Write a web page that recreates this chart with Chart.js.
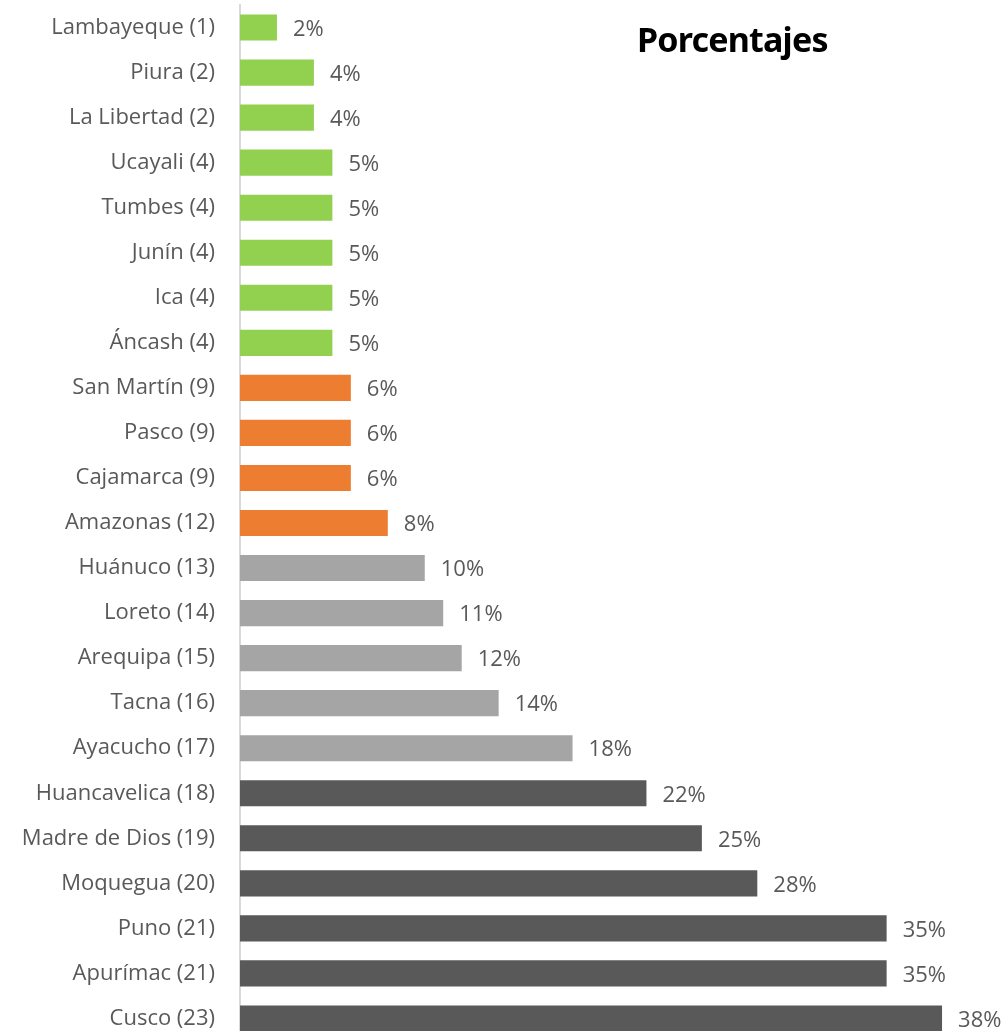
<!DOCTYPE html>
<html>
<head>
<meta charset="utf-8">
<script src="https://cdn.jsdelivr.net/npm/chart.js@4.4.1/dist/chart.umd.min.js"></script>
<style>
  html, body { margin: 0; padding: 0; background: #fff; overflow: hidden; width: 1007px; height: 1031px; }
  #wrap { position: relative; width: 1007px; height: 1031px; overflow: hidden; }
  #c { position: absolute; left: 0; top: 0; }
  #title { position: absolute; left: 637px; top: 19px; font-family: "Noto Sans", sans-serif; font-weight: 700; font-size: 34px; color: #000; letter-spacing: -0.8px; line-height: 40px; white-space: nowrap; }
</style>
</head>
<body>
<div id="wrap">
  <canvas id="c" width="1040" height="1046"></canvas>
  <div id="title">Porcentajes</div>
</div>
<script>
const categories = ["Lambayeque (1)", "Piura (2)", "La Libertad (2)", "Ucayali (4)", "Tumbes (4)", "Junín (4)", "Ica (4)", "Áncash (4)", "San Martín (9)", "Pasco (9)", "Cajamarca (9)", "Amazonas (12)", "Huánuco (13)", "Loreto (14)", "Arequipa (15)", "Tacna (16)", "Ayacucho (17)", "Huancavelica (18)", "Madre de Dios (19)", "Moquegua (20)", "Puno (21)", "Apurímac (21)", "Cusco (23)"];
const percentages = [2, 4, 4, 5, 5, 5, 5, 5, 6, 6, 6, 8, 10, 11, 12, 14, 18, 22, 25, 28, 35, 35, 38];
const tiers = [1, 1, 1, 1, 1, 1, 1, 1, 2, 2, 2, 2, 3, 3, 3, 3, 3, 4, 4, 4, 4, 4, 4];

const tierColors = { 1: "#92D050", 2: "#ED7D31", 3: "#A5A5A5", 4: "#595959" };

const valueLabels = {
  id: "valueLabels",
  afterDatasetsDraw(chart) {
    const ctx = chart.ctx;
    const meta = chart.getDatasetMeta(0);
    ctx.save();
    ctx.font = '22px "Open Sans", sans-serif';
    ctx.fillStyle = "#595959";
    ctx.textAlign = "left";
    ctx.textBaseline = "middle";
    meta.data.forEach((bar, i) => {
      ctx.fillText(percentages[i] + "%", bar.x + 16, bar.y + 2);
    });
    ctx.restore();
  }
};

new Chart(document.getElementById("c"), {
  type: "bar",
  data: {
    labels: categories,
    datasets: [{
      data: percentages,
      backgroundColor: tiers.map(t => tierColors[t]),
      borderWidth: 0,
      barPercentage: 0.58,
      categoryPercentage: 1.0
    }]
  },
  options: {
    indexAxis: "y",
    responsive: false,
    animation: false,
    devicePixelRatio: 1,
    layout: { padding: { left: 0, right: 61, top: 5, bottom: 5 } },
    plugins: { legend: { display: false }, tooltip: { enabled: false }, title: { display: false } },
    scales: {
      x: {
        display: false,
        min: 0,
        max: 40
      },
      y: {
        afterFit(scale) { scale.width = 240; scale.paddingTop = 0; scale.paddingBottom = 0; },
        grid: { display: false, drawTicks: false },
        border: { display: true, color: "#D9D9D9", width: 2 },
        ticks: {
          padding: 25,
          color: "#595959",
          font: { family: "Open Sans", size: 22 }
        }
      }
    }
  },
  plugins: [valueLabels]
});
</script>
</body>
</html>
